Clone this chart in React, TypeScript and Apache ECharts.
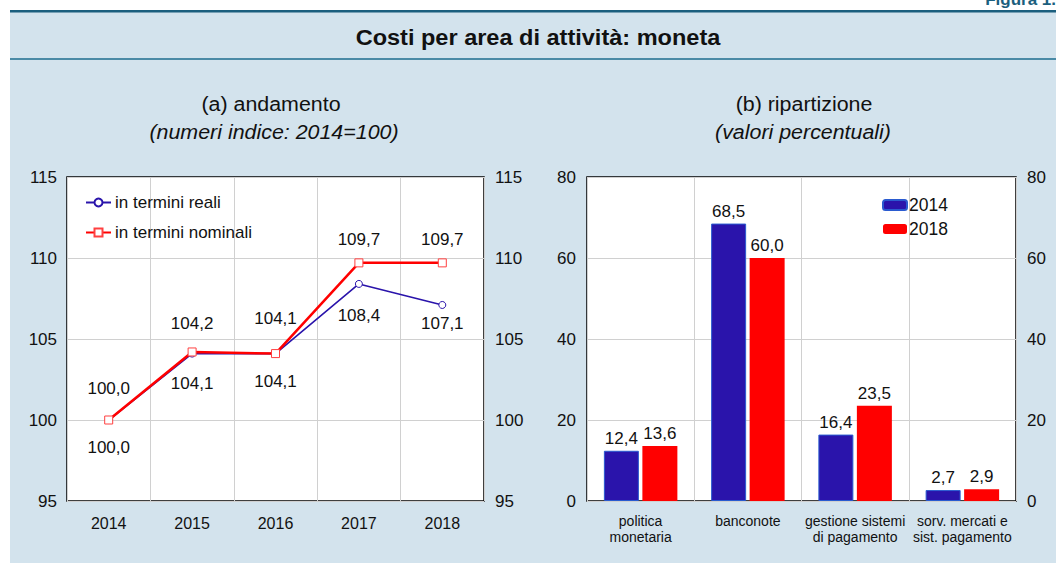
import React, { useEffect, useRef } from "react";
import * as echarts from "echarts";

const years = ["2014", "2015", "2016", "2017", "2018"];
const realValues = [100.0, 104.1, 104.1, 108.4, 107.1];
const nominalValues = [100.0, 104.2, 104.1, 109.7, 109.7];

const areas = [
  "politica\nmonetaria",
  "banconote",
  "gestione sistemi\ndi pagamento",
  "sorv. mercati e\nsist. pagamento",
];
const share2014 = [12.4, 68.5, 16.4, 2.7];
const share2018 = [13.6, 60.0, 23.5, 2.9];

// label placement (layout only)
const realLabelGap = [15, 17, 15, 19, 6];
const nominalLabelGap = [19, 15, 22, 10, 10];

const FONT = "'Liberation Sans', Arial, Helvetica, sans-serif";
const BLUE = "#2a14ab";
const RED = "#ff0000";
const BG = "#d3e3ed";
const GRID = "#d0d0d0";
const TXT = "#111";

const fmt = (v: number) => v.toFixed(1).replace(".", ",");

export default function App() {
  const ref = useRef<HTMLDivElement>(null);
  useEffect(() => {
    if (!ref.current) return;
    const chart = echarts.init(ref.current, undefined, { renderer: "svg" });
    const yLabel = { color: TXT, fontSize: 17, fontFamily: FONT };
    const txt = (x: number, y: number, text: string, font: string) => ({
      type: "text",
      silent: true,
      x,
      y,
      scaleX: 1.07,
      style: { text, font, fill: TXT, textAlign: "center", textVerticalAlign: "middle" },
    });
    chart.setOption({
      animation: false,
      backgroundColor: "#ffffff",
      textStyle: { fontFamily: FONT },
      graphic: [
        { type: "rect", silent: true, z: -10, shape: { x: 10, y: 10, width: 1046, height: 553 }, style: { fill: BG } },
        { type: "rect", silent: true, z: -9, shape: { x: 10, y: 10, width: 1046, height: 2.5 }, style: { fill: "#1b5f7e" } },
        { type: "rect", silent: true, z: -9, shape: { x: 10, y: 58, width: 1046, height: 2 }, style: { fill: "#4a8aa6" } },
        { type: "text", silent: true, right: 0, top: -9, style: { text: "Figura 1.", font: `bold 17px ${FONT}`, fill: "#1b5f7e" } },
        txt(538, 37, "Costi per area di attività: moneta", `bold 22px ${FONT}`),
        txt(271, 104, "(a) andamento", `20px ${FONT}`),
        txt(274, 132, "(numeri indice: 2014=100)", `italic 20px ${FONT}`),
        txt(804, 104, "(b) ripartizione", `20px ${FONT}`),
        txt(803, 132, "(valori percentuali)", `italic 20px ${FONT}`),
      ],
      legend: [
        {
          orient: "vertical",
          left: 80,
          top: 189,
          itemGap: 13,
          itemWidth: 25,
          itemHeight: 10,
          textStyle: { fontSize: 17, color: TXT, fontFamily: FONT, padding: [0, 0, 0, -1] },
          data: ["in termini reali", "in termini nominali"],
        },
        {
          orient: "vertical",
          left: 877,
          top: 191,
          itemGap: 6,
          itemWidth: 24,
          itemHeight: 10,
          textStyle: { fontSize: 17.5, color: TXT, fontFamily: FONT, padding: [0, 0, 0, -3] },
          data: ["2014", "2018"],
        },
      ],
      grid: [
        { left: 67, top: 177, width: 417, height: 324, show: true, backgroundColor: "#fff", borderColor: "#000", borderWidth: 1.5 },
        { left: 587, top: 177, width: 429, height: 324, show: true, backgroundColor: "#fff", borderColor: "#000", borderWidth: 1.5 },
      ],
      xAxis: [
        {
          type: "category",
          gridIndex: 0,
          data: years,
          boundaryGap: true,
          axisLine: { show: false },
          axisTick: { show: false },
          axisLabel: { fontSize: 16, color: TXT, fontFamily: FONT, margin: 14 },
          splitLine: { show: true, interval: 0, lineStyle: { color: GRID, width: 1 } },
        },
        {
          type: "category",
          gridIndex: 1,
          data: areas,
          boundaryGap: true,
          axisLine: { show: false },
          axisTick: { show: false },
          axisLabel: { fontSize: 14, color: TXT, fontFamily: FONT, margin: 12, lineHeight: 16, interval: 0 },
          splitLine: { show: true, interval: 0, lineStyle: { color: GRID, width: 1 } },
        },
      ],
      yAxis: [
        {
          type: "value", gridIndex: 0, position: "left", min: 95, max: 115, interval: 5,
          axisLine: { show: false }, axisTick: { show: false },
          axisLabel: { ...yLabel, margin: 10 },
          splitLine: { show: true, lineStyle: { color: GRID, width: 1 } },
        },
        {
          type: "value", gridIndex: 0, position: "right", min: 95, max: 115, interval: 5,
          axisLine: { show: false }, axisTick: { show: false },
          axisLabel: { ...yLabel, margin: 11 },
          splitLine: { show: false },
        },
        {
          type: "value", gridIndex: 1, position: "left", min: 0, max: 80, interval: 20,
          axisLine: { show: false }, axisTick: { show: false },
          axisLabel: { ...yLabel, margin: 11 },
          splitLine: { show: true, lineStyle: { color: GRID, width: 1 } },
        },
        {
          type: "value", gridIndex: 1, position: "right", min: 0, max: 80, interval: 20,
          axisLine: { show: false }, axisTick: { show: false },
          axisLabel: { ...yLabel, margin: 11 },
          splitLine: { show: false },
        },
      ],
      series: [
        {
          name: "in termini reali",
          type: "line",
          xAxisIndex: 0,
          yAxisIndex: 0,
          data: realValues.map((v, i) => ({ value: v, label: { distance: realLabelGap[i] } })),
          symbol: "circle",
          symbolSize: 7,
          z: 3,
          lineStyle: { color: BLUE, width: 1.6 },
          itemStyle: { color: "#fff", borderColor: BLUE, borderWidth: 1 },
          label: { show: true, position: "bottom", fontSize: 17, color: TXT, fontFamily: FONT, formatter: (p: any) => fmt(p.value) },
        },
        {
          name: "in termini nominali",
          type: "line",
          xAxisIndex: 0,
          yAxisIndex: 0,
          data: nominalValues.map((v, i) => ({ value: v, label: { distance: nominalLabelGap[i] } })),
          symbol: "rect",
          symbolSize: 8,
          z: 4,
          lineStyle: { color: RED, width: 2.5 },
          itemStyle: { color: "#fff", borderColor: "#ff4040", borderWidth: 1 },
          label: { show: true, position: "top", fontSize: 17, color: TXT, fontFamily: FONT, formatter: (p: any) => fmt(p.value) },
        },
        {
          name: "2014",
          type: "bar",
          xAxisIndex: 1,
          yAxisIndex: 2,
          data: share2014,
          barWidth: 35,
          barGap: "10%",
          itemStyle: { color: BLUE, borderColor: "#2a5bd0", borderWidth: 1 },
          label: { show: true, position: "top", distance: 4, fontSize: 17, color: TXT, fontFamily: FONT, formatter: (p: any) => fmt(p.value) },
        },
        {
          name: "2018",
          type: "bar",
          xAxisIndex: 1,
          yAxisIndex: 2,
          data: share2018,
          barWidth: 35,
          barGap: "10%",
          itemStyle: { color: RED },
          label: { show: true, position: "top", distance: 4, fontSize: 17, color: TXT, fontFamily: FONT, formatter: (p: any) => fmt(p.value) },
        },
      ],
    });
    return () => chart.dispose();
  }, []);
  return <div ref={ref} style={{ position: "fixed", left: 0, top: 0, width: 1056, height: 563 }} />;
}
